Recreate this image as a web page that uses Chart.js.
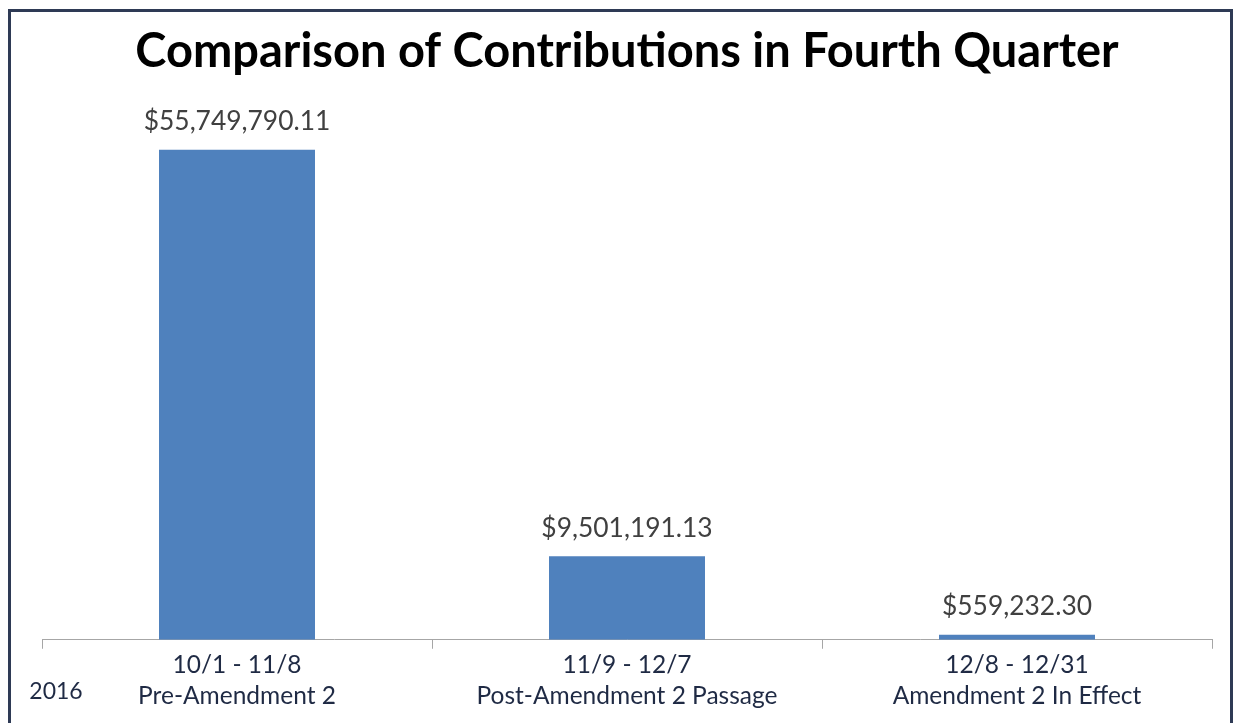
<!DOCTYPE html>
<html>
<head>
<meta charset="utf-8">
<script src="https://cdn.jsdelivr.net/npm/chart.js@4"></script>
<style>
  html, body { margin: 0; padding: 0; background: #fff; overflow: hidden; }
  #frame {
    position: absolute; left: 8px; top: 9px; width: 1219px; height: 800px;
    border: 3px solid #2e3a55;
  }
  #wrap { position: absolute; left: 0; top: 0; width: 1234px; height: 723px; }
</style>
</head>
<body>
<div id="frame"></div>
<div id="wrap"><canvas id="myChart" width="1234" height="723"></canvas></div>
<script>
// chart data
const categories = [
  ["10/1 - 11/8", "Pre-Amendment 2"],
  ["11/9 - 12/7", "Post-Amendment 2 Passage"],
  ["12/8 - 12/31", "Amendment 2 In Effect"],
];
const contributions = [55749790.11, 9501191.13, 559232.3];
const yearLabel = "2016";
const chartTitle = "Comparison of Contributions in Fourth Quarter";

const barColor = "#4f81bd";
const navy = "#1f2a44";

function money(v) {
  return "$" + v.toLocaleString("en-US", { minimumFractionDigits: 2, maximumFractionDigits: 2 });
}

// value labels above the bars + the year text
const labelsPlugin = {
  id: "valueLabels",
  afterDatasetsDraw(chart) {
    const ctx = chart.ctx;
    const meta = chart.getDatasetMeta(0);
    ctx.save();
    ctx.font = "26.4px Lato";
    ctx.fillStyle = "#404040";
    ctx.textAlign = "center";
    ctx.textBaseline = "middle";
    meta.data.forEach((bar, i) => {
      ctx.fillText(money(contributions[i]), bar.x, bar.y - 28);
    });
    ctx.font = "23px Lato";
    ctx.fillStyle = navy;
    ctx.fillText(yearLabel, 56, 692);
    ctx.restore();
  },
};

const ctx = document.getElementById("myChart").getContext("2d");
const myChart = new Chart(ctx, {
  type: "bar",
  data: {
    labels: categories,
    datasets: [
      {
        data: contributions,
        backgroundColor: barColor,
        borderWidth: 0,
        categoryPercentage: 1,
        barPercentage: 0.4,
      },
    ],
  },
  options: {
    responsive: false,
    animation: false,
    layout: { padding: { left: 42, right: 22, top: 0, bottom: 10 } },
    plugins: {
      legend: { display: false },
      tooltip: { enabled: false },
      title: {
        display: true,
        text: chartTitle,
        color: "#000",
        font: { family: "Lato", size: 47, weight: "bold", lineHeight: 1.2 },
        padding: { top: 24, bottom: 32 },
      },
    },
    scales: {
      x: {
        grid: {
          display: true,
          drawOnChartArea: false,
          offset: true,
          tickLength: 9,
          color: "#a6a6a6",
        },
        border: { display: true, color: "#a6a6a6", width: 1 },
        ticks: {
          color: navy,
          font: { family: "Lato", size: 24.5, lineHeight: 1.27 },
          padding: 1,
          maxRotation: 0,
        },
      },
      y: {
        display: false,
        min: 0,
        max: 60000000,
      },
    },
  },
  plugins: [labelsPlugin],
});
</script>
</body>
</html>
